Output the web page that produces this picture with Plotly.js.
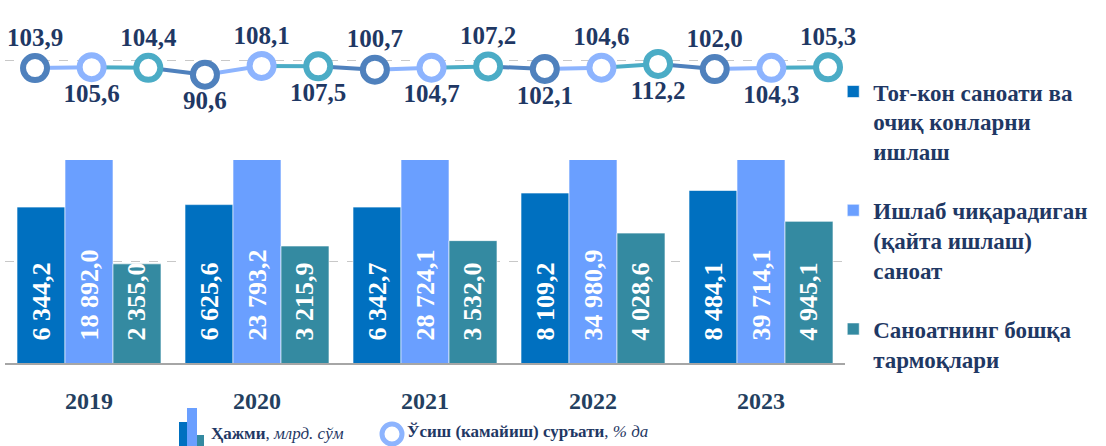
<!DOCTYPE html>
<html>
<head>
<meta charset="utf-8">
<script src="https://cdn.plot.ly/plotly-3.0.1.min.js"></script>
<style>
  html, body { margin: 0; padding: 0; background: #fff; }
  #plot { width: 1106px; height: 446px; }
</style>
</head>
<body>
<div id="plot"></div>
<script>
/* data */
var years = ["2019", "2020", "2021", "2022", "2023"];

var seriesNames = [
  "Тоғ-кон саноати ва<br>очиқ конларни<br>ишлаш",
  "Ишлаб чиқарадиган<br>(қайта ишлаш)<br>саноат",
  "Саноатнинг бошқа<br>тармоқлари"
];

// volume, bln. sum
var miningVolume = [6344.2, 6625.6, 6342.7, 8109.2, 8484.1];
var manufVolume = [18892.0, 23793.2, 28724.1, 34980.9, 39714.1];
var otherVolume = [2355.0, 3215.9, 3532.0, 4028.6, 4945.1];

// growth rate, %
var miningGrowth = [103.9, 90.6, 100.7, 102.1, 102.0];
var manufGrowth = [105.6, 108.1, 104.7, 104.6, 104.3];
var otherGrowth = [104.4, 107.5, 107.2, 112.2, 105.3];

var colors = ["#0070c0", "#6a9fff", "#348aa1"];
var ringColors = ["#4f81bd", "#8db4fe", "#4bacc6"];
var navy = "#1f3864";
var serif = "Liberation Serif, Times New Roman, serif";

/* pixel helpers for decorations (plot area 5..845 x, 20..363 y) */
function px(x) { return (x - 5) / 840; }
function py(y) { return (363 - y) / 343; }

/* bars */
var volumes = [miningVolume, manufVolume, otherVolume];
var data = [];
volumes.forEach(function (vals, s) {
  data.push({
    type: "bar",
    x: years,
    y: vals,
    name: seriesNames[s],
    legendgroup: "g" + s,
    marker: { color: colors[s], line: { color: "rgba(255,255,255,0.6)", width: 1 } },
    texttemplate: "\u00a0\u00a0\u00a0%{y:,.1f}",
    textposition: "inside",
    insidetextanchor: "start",
    textangle: -90,
    textfont: { family: serif, size: 26, color: "white", weight: 700 },
    hoverinfo: "skip",
    xaxis: "x",
    yaxis: "y"
  });
});

/* growth line: segment coloured by the point it runs into */
var growths = [miningGrowth, manufGrowth, otherGrowth];
var segX = [[], [], []];
var segY = [[], [], []];
for (var k = 0; k < years.length; k++) {
  if (k > 0) {
    segX[0].push(3 * k - 1, 3 * k, null);
    segY[0].push(otherGrowth[k - 1], miningGrowth[k], null);
  }
  segX[1].push(3 * k, 3 * k + 1, null);
  segY[1].push(miningGrowth[k], manufGrowth[k], null);
  segX[2].push(3 * k + 1, 3 * k + 2, null);
  segY[2].push(manufGrowth[k], otherGrowth[k], null);
}
for (var s = 0; s < 3; s++) {
  data.push({
    type: "scatter",
    mode: "lines",
    x: segX[s],
    y: segY[s],
    line: { color: ringColors[s], width: 4 },
    connectgaps: false,
    showlegend: false,
    hoverinfo: "skip",
    xaxis: "x2",
    yaxis: "y2"
  });
}
growths.forEach(function (vals, s) {
  var xs = vals.map(function (v, k) { return 3 * k + s; });
  data.push({
    type: "scatter",
    mode: "markers+text",
    x: xs,
    y: vals,
    texttemplate: "%{y:.1f}",
    textposition: xs.map(function (i) { return i % 2 === 0 ? "top center" : "bottom center"; }),
    textfont: { family: serif, size: 25, color: navy, weight: 700 },
    marker: { symbol: "circle", size: 24, color: "white", line: { color: ringColors[s], width: 6 } },
    cliponaxis: false,
    showlegend: false,
    hoverinfo: "skip",
    xaxis: "x2",
    yaxis: "y2"
  });
});

/* bottom legend decorations */
var shapes = [
  { type: "rect", xref: "paper", yref: "paper", x0: px(179), x1: px(187), y0: py(446), y1: py(422), fillcolor: colors[0], line: { width: 0 } },
  { type: "rect", xref: "paper", yref: "paper", x0: px(187), x1: px(197), y0: py(446), y1: py(408), fillcolor: colors[1], line: { width: 0 } },
  { type: "rect", xref: "paper", yref: "paper", x0: px(197), x1: px(204), y0: py(446), y1: py(435), fillcolor: colors[2], line: { width: 0 } },
  { type: "circle", xref: "paper", yref: "paper", x0: px(382), x1: px(402), y0: py(444), y1: py(424), fillcolor: "white", line: { color: ringColors[1], width: 5 } }
];

var annotations = [
  { xref: "paper", yref: "paper", x: px(209), y: py(434), xanchor: "left", yanchor: "middle", showarrow: false,
    text: "<b>Ҳажми</b>, <i>млрд. сўм</i>", font: { family: serif, size: 17, color: navy } },
  { xref: "paper", yref: "paper", x: px(405), y: py(432), xanchor: "left", yanchor: "middle", showarrow: false,
    text: "<b>Ўсиш (камайиш) суръати</b>, <i>% да</i>", font: { family: serif, size: 17, color: navy } }
];

var layout = {
  width: 1106,
  height: 446,
  margin: { l: 5, r: 261, t: 20, b: 83 },
  paper_bgcolor: "white",
  plot_bgcolor: "white",
  separators: ", ",
  barmode: "group",
  bargap: 0.143,
  bargroupgap: 0,
  uniformtext: { minsize: 26, mode: "show" },
  font: { family: serif, color: navy },
  xaxis: {
    type: "category",
    domain: [0, 1],
    anchor: "y",
    showline: true,
    linecolor: "#a6a6a6",
    linewidth: 2,
    ticks: "outside",
    ticklen: 15,
    tickcolor: "rgba(0,0,0,0)",
    tickfont: { family: serif, size: 24, color: "#243f60", weight: 700 },
    fixedrange: true
  },
  yaxis: {
    type: "log",
    domain: [0, 0.592],
    range: [2.62, 4.16],
    tickvals: [Math.pow(10, 3.39), Math.pow(10, 4.159)],
    showticklabels: false,
    gridcolor: "#c8c8c8",
    griddash: "dash",
    gridwidth: 1,
    zeroline: false,
    showline: false,
    fixedrange: true
  },
  xaxis2: {
    domain: [0, 1],
    anchor: "y2",
    range: [-0.53, 14.3],
    visible: false
  },
  yaxis2: {
    domain: [0.72, 1],
    anchor: "x2",
    range: [8, 200],
    tickvals: [120],
    showticklabels: false,
    gridcolor: "#c8c8c8",
    griddash: "dash",
    zeroline: false,
    showline: false
  },
  showlegend: true,
  legend: {
    x: 0.986,
    y: 0.854,
    xanchor: "left",
    yanchor: "top",
    traceorder: "grouped",
    tracegroupgap: 26,
    valign: "top",
    itemwidth: 30,
    bgcolor: "rgba(0,0,0,0)",
    font: { family: serif, size: 23, color: navy, weight: 700 }
  },
  shapes: shapes,
  annotations: annotations
};

Plotly.newPlot("plot", data, layout, { displayModeBar: false, staticPlot: true });
</script>
</body>
</html>
